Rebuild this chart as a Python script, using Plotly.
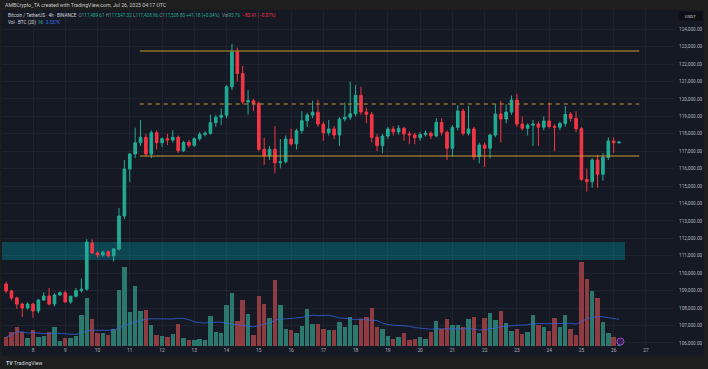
import plotly.graph_objects as go
import pandas as pd

# ---------------- data (BTC/USDT, Binance, 4h) ----------------
first_candle = "2025-07-07 04:00"
n_candles = 115

opens = [109380, 108980, 108580, 108230, 108000, 108230, 107830, 108460, 108690, 108232,
         108750, 108880, 108350, 108680, 109000, 109080, 111740, 111160, 111045, 111230,
         111000, 111390, 113280, 115980, 116840, 117490, 117800, 116840, 118065, 117490,
         117720, 117640, 117800, 117030, 117510, 117340, 117720, 117970, 118030, 118640,
         118950, 119065, 120700, 122700, 121470, 119830, 119900, 119750, 117110, 116730,
         117110, 116340, 116400, 117700, 117420, 118180, 118750, 119080, 119240, 118560,
         118060, 118280, 117930, 118850, 118950, 119150, 120210, 119250, 119120, 117800,
         117320, 117870, 118280, 118110, 118320, 117990, 117940, 117780, 117960, 118030,
         117880, 118660, 118090, 117170, 118370, 119310, 118030, 118280, 116690, 117360,
         117170, 117930, 119140, 118850, 119250, 119940, 118560, 118320, 118500, 118560,
         118380, 118740, 118420, 118380, 118600, 119120, 118890, 118290, 115390, 115250,
         116500, 115680, 116650, 117590, 117489.61]
highs = [109520, 109050, 108650, 108300, 108330, 108300, 108500, 108900, 109150, 108850,
         108950, 109000, 108700, 109150, 109700, 111960, 111950, 111250, 111300, 111300,
         111450, 113740, 116500, 116900, 118350, 118790, 118000, 118200, 118200, 117800,
         118000, 118200, 117900, 117600, 117650, 117800, 118100, 118150, 119100, 119100,
         119450, 120800, 123160, 122950, 121900, 120500, 120000, 119850, 117770, 117300,
         118450, 117700, 117900, 118300, 118300, 119300, 119200, 119900, 119950, 118700,
         118800, 118450, 118950, 119800, 120990, 120800, 120700, 119500, 119250, 118000,
         118000, 118400, 118450, 118500, 118400, 118150, 118050, 118100, 118200, 118150,
         118900, 118900, 118200, 118500, 119650, 119450, 119600, 118400, 117500, 117500,
         118000, 119700, 119900, 119700, 120200, 120300, 119000, 118600, 118800, 118700,
         119000, 119800, 118550, 118700, 119600, 119250, 119300, 118400, 116000, 116600,
         116800, 116900, 117800, 117800, 117547.32]
lows = [108850, 108450, 107950, 107480, 107900, 107450, 107700, 108400, 108150, 108100,
        108700, 108300, 108250, 108600, 108900, 109000, 111100, 110900, 110950, 110900,
        110660, 111300, 113100, 115220, 116600, 117300, 116700, 116600, 117100, 117250,
        117350, 117500, 116900, 116950, 117200, 117250, 117600, 117850, 117950, 118400,
        118500, 118900, 120500, 121000, 119700, 119100, 119300, 117000, 116220, 116500,
        115740, 116020, 116300, 117300, 117100, 118000, 118400, 118900, 118400, 117600,
        117900, 117700, 117300, 118700, 118800, 119000, 119100, 118600, 117500, 117000,
        116900, 117700, 117900, 117950, 117600, 117400, 117400, 117600, 117850, 117700,
        117800, 117900, 116500, 116700, 118200, 117900, 117900, 116500, 116300, 116100,
        116600, 117800, 117500, 118600, 119100, 118400, 118200, 117900, 117300, 117300,
        118200, 118300, 117000, 118200, 118400, 118700, 118100, 115300, 114680, 114900,
        114900, 115300, 116500, 116900, 117428.96]
closes = [108980, 108580, 108230, 108000, 108230, 107830, 108460, 108690, 108230, 108750,
          108880, 108350, 108680, 108995, 109080, 111790, 111160, 111045, 111200, 111000,
          111390, 113280, 115980, 116840, 117490, 117800, 116840, 118065, 117490, 117720,
          117640, 117800, 117030, 117510, 117340, 117720, 117970, 118030, 118640, 118950,
          119065, 120700, 122700, 121470, 119830, 119900, 119750, 117110, 116730, 117110,
          116340, 116400, 117700, 117420, 118180, 118750, 119080, 119240, 118560, 118060,
          118280, 117930, 118850, 118950, 119150, 120210, 119250, 119120, 117800, 117320,
          117870, 118280, 118110, 118320, 117990, 117940, 117780, 117960, 118030, 117880,
          118660, 118090, 117170, 118370, 119310, 118030, 118280, 116690, 117360, 117170,
          117930, 119140, 118850, 119250, 119940, 118560, 118320, 118500, 118560, 118380,
          118740, 118420, 118380, 118600, 119120, 118890, 118290, 115390, 115250, 116500,
          115680, 116650, 117590, 117489.61, 117528.80]
volumes = [960, 1570, 2120, 1570, 850, 1760, 960, 1100, 1570, 2060,
           550, 850, 910, 1100, 3410, 5250, 2940, 1460, 1400, 1210,
           1840, 6160, 8660, 3770, 6600, 3880, 3960, 2310, 1180, 1100,
           1020, 1290, 2420, 850, 660, 660, 800, 660, 3300, 1540,
           1400, 4510, 5860, 2780, 5060, 3490, 1210, 5500, 4620, 3050,
           7260, 4510, 1900, 1760, 1400, 2200, 4040, 2420, 2420, 1900,
           1760, 1760, 2640, 2060, 3160, 2280, 3000, 3160, 4180, 2120,
           1840, 1100, 740, 960, 1400, 660, 800, 1020, 800, 1540,
           2750, 1840, 3000, 2340, 2280, 2120, 2940, 3220, 1460, 3080,
           3600, 2860, 3880, 2560, 1680, 1840, 1320, 1540, 3380, 2280,
           2120, 1620, 3080, 2060, 3440, 1900, 1180, 9210, 7370, 6020,
           5280, 2640, 1460, 1020, 95.76]

price_ticks = list(range(106000, 125000, 1000))
day_tick_dates = [f"2025-07-{d:02d}" for d in range(8, 28)]
day_tick_labels = [str(d) for d in range(8, 28)]

range_top = 122754        # solid resistance
range_mid = 119712        # dashed mid level
range_bottom = 116727     # solid support
zone_low, zone_high = 110760, 111790   # teal demand box

# ---------------- styling / layout helpers ----------------
W, H = 708, 369
PL, PR, PT, PB = 2, 674, 10, 346
BG = "#151924"
FRAME = "#1e1e1e"
TXT = "#b2b5be"
UP = "#22ab94"
DN = "#f23645"
FONT = "Roboto"


def px(x):
    return (x - PL) / (PR - PL)


def py(y):
    return (PB - y) / (PB - PT)


times = pd.date_range(first_candle, periods=n_candles, freq="4h")
vol_colors = ["#2b786f" if c >= o else "#8e3b41" for o, c in zip(opens, closes)]
vol_ma = pd.Series(volumes).rolling(20, min_periods=1).mean()

fig = go.Figure()

fig.add_trace(go.Bar(
    x=times, y=volumes, marker_color=vol_colors, marker_line_width=0,
    width=4 * 3600 * 1000 * 0.82, yaxis="y2", hoverinfo="skip"))
fig.add_trace(go.Scatter(
    x=times, y=vol_ma, mode="lines", line=dict(color="rgba(52,100,230,0.75)", width=1),
    yaxis="y2", hoverinfo="skip"))
fig.add_trace(go.Candlestick(
    x=times, open=opens, high=highs, low=lows, close=closes,
    increasing=dict(line=dict(color=UP, width=1), fillcolor=UP),
    decreasing=dict(line=dict(color=DN, width=1), fillcolor=DN),
    whiskerwidth=0))

x_left = pd.Timestamp("2025-07-08") - pd.Timedelta(days=(33 - PL) / 32.26)
x_right = pd.Timestamp("2025-07-08") + pd.Timedelta(days=(PR - 33) / 32.26)
y_lo = 124000 - (PB - 29.3) * 57.4
y_hi = 124000 + (29.3 - PT) * 57.4

line_start = "2025-07-11 07:30"
line_end = "2025-07-26 19:00"
shapes = [
    dict(type="rect", xref="x", yref="y", x0=x_left, x1="2025-07-26 08:25",
         y0=zone_low, y1=zone_high, fillcolor="rgba(0,151,167,0.36)",
         line=dict(width=0), layer="between"),
    dict(type="line", xref="x", yref="y", x0=line_start, x1=line_end,
         y0=range_top, y1=range_top, line=dict(color="#c99a2e", width=1)),
    dict(type="line", xref="x", yref="y", x0=line_start, x1=line_end,
         y0=range_mid, y1=range_mid, line=dict(color="#b8913d", width=1, dash="4px,4px")),
    dict(type="line", xref="x", yref="y", x0=line_start, x1=line_end,
         y0=range_bottom, y1=range_bottom, line=dict(color="#c99a2e", width=1)),
    # frame strips
    dict(type="rect", xref="paper", yref="paper", x0=px(-5), x1=px(715), y0=py(10), y1=py(-5),
         fillcolor=FRAME, line=dict(width=0), layer="above"),
    dict(type="rect", xref="paper", yref="paper", x0=px(-5), x1=px(715), y0=py(375), y1=py(356),
         fillcolor=FRAME, line=dict(width=0), layer="above"),
    dict(type="rect", xref="paper", yref="paper", x0=px(704), x1=px(715), y0=py(375), y1=py(-5),
         fillcolor=FRAME, line=dict(width=0), layer="above"),
    dict(type="rect", xref="paper", yref="paper", x0=px(-5), x1=px(1.5), y0=py(375), y1=py(-5),
         fillcolor=FRAME, line=dict(width=0), layer="above"),
    # event marker
    dict(type="circle", xref="x", yref="paper", xsizemode="pixel", ysizemode="pixel",
         xanchor="2025-07-26 05:00", yanchor=py(341.5), x0=-3.5, x1=3.5, y0=-3.5, y1=3.5,
         fillcolor="#3b2150", line=dict(color="#9b4dca", width=1)),
]

g = "#8a8d96"
hdr1 = ("Bitcoin / TetherUS · 4h · BINANCE  "
        f"<span style='color:{g}'>O</span><span style='color:{UP}'>117,489.61</span> "
        f"<span style='color:{g}'>H</span><span style='color:{UP}'>117,547.32</span> "
        f"<span style='color:{g}'>L</span><span style='color:{UP}'>117,428.96</span> "
        f"<span style='color:{g}'>C</span><span style='color:{UP}'>117,528.80</span> "
        f"<span style='color:{UP}'>+41.18 (+0.04%)</span>  "
        f"<span style='color:{g}'>Vol</span><span style='color:{UP}'>95.76</span>  "
        f"<span style='color:{DN}'>−83.91 (−0.07%)</span>")
hdr2 = (f"Vol · BTC (20)  <span style='color:{UP}'>96</span>  "
        f"<span style='color:#3f6fe0'>3.537K</span>")

annotations = [
    dict(text="AMBCrypto_TA created with TradingView.com, Jul 26, 2025 04:17 UTC",
         xref="paper", yref="paper", x=px(3), y=py(5), xanchor="left", yanchor="middle",
         showarrow=False, font=dict(size=5.2, color="#c8c8c8", family=FONT)),
    dict(text=hdr1, xref="paper", yref="paper", x=px(6), y=py(15.5), xanchor="left",
         yanchor="middle", showarrow=False, font=dict(size=4.6, color="#d1d4dc", family=FONT)),
    dict(text=hdr2, xref="paper", yref="paper", x=px(6), y=py(22.5), xanchor="left",
         yanchor="middle", showarrow=False, font=dict(size=4.6, color="#d1d4dc", family=FONT)),
    dict(text="USDT", xref="paper", yref="paper", x=px(690), y=py(15.5), xanchor="center",
         yanchor="middle", showarrow=False, bgcolor="#0d0f15", borderpad=1.5, width=20,
         font=dict(size=4.4, color="#d1d4dc", family=FONT)),
    dict(text="<b>TV</b> TradingView", xref="paper", yref="paper", x=px(4), y=py(362.5),
         xanchor="left", yanchor="middle", showarrow=False,
         font=dict(size=5.2, color="#d1d4dc", family=FONT)),
]

fig.update_layout(
    width=W, height=H,
    margin=dict(l=PL, r=W - PR, t=PT, b=H - PB),
    paper_bgcolor=BG, plot_bgcolor=BG,
    showlegend=False, bargap=0,
    font=dict(family=FONT, color=TXT, size=4.6),
    shapes=shapes, annotations=annotations,
    xaxis=dict(type="date", range=[x_left, x_right], rangeslider=dict(visible=False),
               tickvals=day_tick_dates, ticktext=day_tick_labels, ticks="",
               showgrid=True, gridcolor="#1f2330", gridwidth=1, zeroline=False,
               showline=False, tickfont=dict(size=4.8, color=TXT), ticklabelstandoff=0),
    yaxis=dict(range=[y_lo, y_hi], side="right", tickvals=price_ticks,
               tickformat=",.2f", ticks="", showgrid=True, gridcolor="#1f2330",
               zeroline=False, showline=False, tickfont=dict(size=4.7, color=TXT),
               ticklabelstandoff=4),
    yaxis2=dict(overlaying="y", range=[0, (PB - PT) * 110], visible=False, fixedrange=True),
)

fig.write_html(
    "out.html",
    config={"displayModeBar": False},
    post_script="document.body.style.margin='0';document.body.style.overflow='hidden';",
)
